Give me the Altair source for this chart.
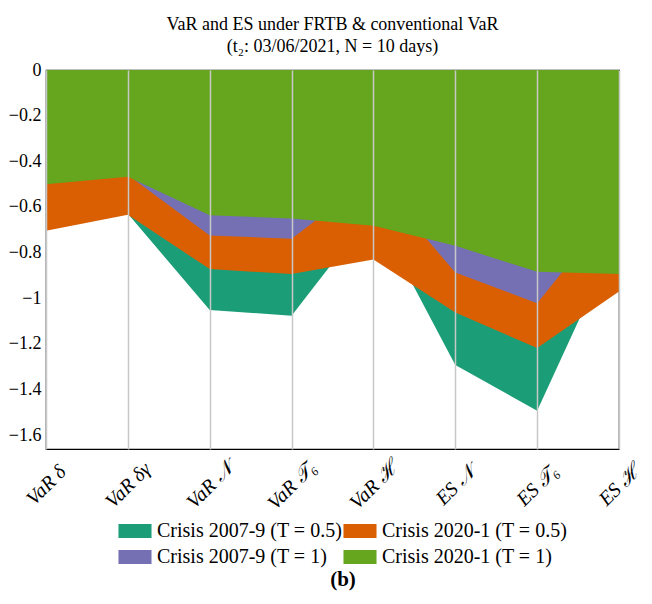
import altair as alt
import pandas as pd

categories = ["VaR δ", "VaR δγ", "VaR 𝒩", "VaR 𝒯₆", "VaR ℋ", "ES 𝒩", "ES 𝒯₆", "ES ℋ"]
series = ["Crisis 2007-9 (T = 0.5)", "Crisis 2020-1 (T = 0.5)",
          "Crisis 2007-9 (T = 1)", "Crisis 2020-1 (T = 1)"]
colors = ["#1b9e77", "#d95f02", "#7570b3", "#66a61e"]

crisis0709_T05 = [-0.60, -0.63, -1.051, -1.076, -0.614, -1.292, -1.492, -0.713]
crisis2021_T05 = [-0.704, -0.634, -0.872, -0.894, -0.830, -1.062, -1.218, -0.970]
crisis0709_T1 = [-0.45, -0.46, -0.725, -0.739, -0.467, -0.887, -1.022, -0.576]
crisis2021_T1 = [-0.500, -0.468, -0.636, -0.650, -0.682, -0.770, -0.884, -0.894]

values = [crisis0709_T05, crisis2021_T05, crisis0709_T1, crisis2021_T1]
rows = []
for s, vals in zip(series, values):
    for c, v in zip(categories, vals):
        rows.append({"measure": c, "series": s, "value": v})
df = pd.DataFrame(rows)

FONT = "'Liberation Serif', 'DejaVu Serif', serif"

x = alt.X("measure:N", sort=categories,
          scale=alt.Scale(type="point", padding=0),
          axis=alt.Axis(title=None, labelAngle=-45, labelAlign="center",
                        labelBaseline="middle", labelPadding=36,
                        labelFont=FONT, labelFontStyle="italic", labelFontSize=20,
                        labelColor="black", grid=True, gridColor="#c8c8c8",
                        gridWidth=1.5, ticks=True, tickColor="#c8c8c8", tickSize=0,
                        domain=False, zindex=1))
y = alt.Y("value:Q", stack=None,
          scale=alt.Scale(domain=[-1.66, 0], nice=False, zero=False),
          axis=alt.Axis(title=None, values=[0, -0.2, -0.4, -0.6, -0.8, -1, -1.2, -1.4, -1.6],
                        format=".1~f", labelExpr="replace(datum.label, '-', '−')",
                        labelFont=FONT, labelFontSize=18,
                        labelColor="black", grid=False, ticks=False,
                        domain=False, labelPadding=5))
color = alt.Color("series:N",
                  scale=alt.Scale(domain=series, range=colors),
                  legend=alt.Legend(title="(b)", orient="none", legendX=72, legendY=451,
                                    direction="horizontal", columns=2,
                                    titleOrient="bottom", titleAnchor="middle",
                                    titleFont=FONT, titleFontSize=21, titleFontWeight="bold",
                                    titleColor="black", titlePadding=2,
                                    labelFont=FONT, labelFontSize=20, labelColor="black",
                                    labelLimit=400, symbolType="M-1.74,-0.74H1.74V0.74H-1.74Z",
                                    symbolSize=361, symbolOffset=7, labelOffset=12,
                                    symbolOpacity=1, symbolStrokeWidth=0,
                                    columnPadding=0, rowPadding=6))

layers = []
for s in series:
    layers.append(
        alt.Chart(df).transform_filter(alt.datum.series == s)
        .mark_area(opacity=1, interpolate="linear")
        .encode(x=x, y=y, color=color)
    )

chart = alt.layer(*layers).properties(
    width=636, height=588,
    autosize=alt.AutoSizeParams(type="fit", contains="padding"),
    title=alt.TitleParams(
        text=["VaR and ES under FRTB & conventional VaR",
              "(t₂: 03/06/2021, N = 10 days)"],
        font=FONT, fontSize=18, fontWeight="normal", color="black",
        anchor="middle", frame="group", offset=5, lineHeight=22),
    padding={"left": 0, "right": 0, "top": 8, "bottom": 83},
).configure_view(stroke="black", strokeWidth=1.2)

chart.save("out.html", embed_options={"renderer": "svg", "actions": False})
